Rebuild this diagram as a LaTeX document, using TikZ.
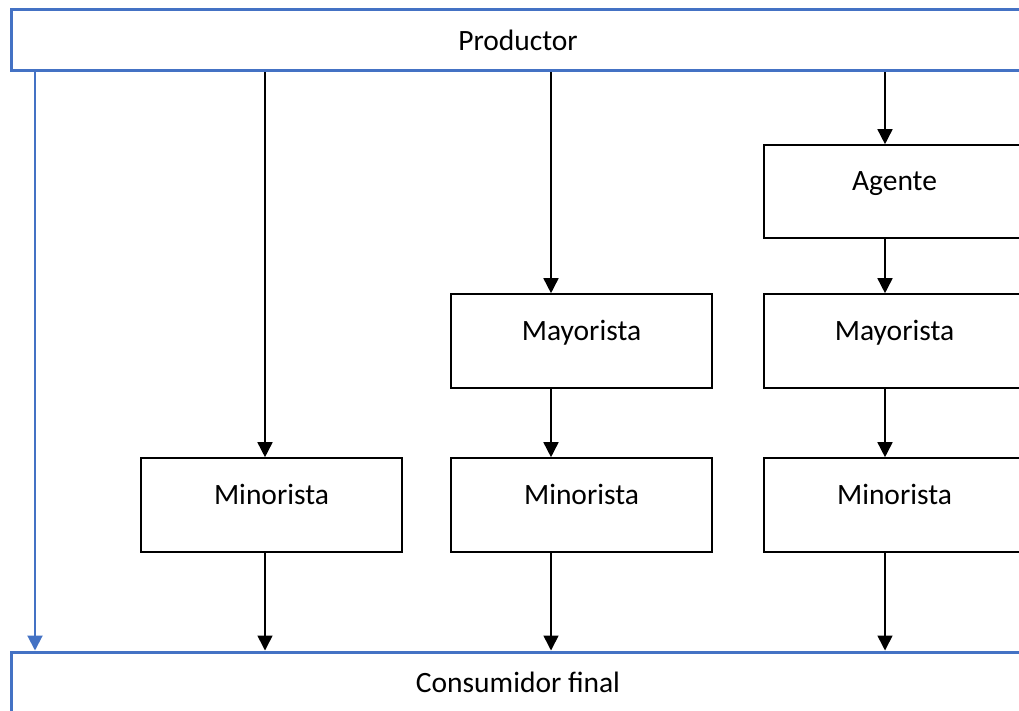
\documentclass[tikz,border=0pt]{standalone}
\usepackage{fontspec}
\setmainfont{Carlito}
\usetikzlibrary{arrows.meta}
\definecolor{wblue}{HTML}{4472C4}
\begin{document}
\begin{tikzpicture}[x=1pt,y=-1pt,
  font=\fontsize{29.5}{35}\selectfont,
  bluebox/.style={draw=wblue,line width=3pt,minimum width=1014pt,minimum height=61pt,inner sep=0pt},
  blackbox/.style={draw=black,line width=1.6pt,minimum width=261pt,minimum height=94pt,inner sep=0pt,text height=20pt,text depth=22pt},
  arr/.style={draw=black,line width=1.6pt,-{Triangle[width=15pt,length=15pt]}},
  barr/.style={draw=wblue,line width=2pt,-{Triangle[width=15pt,length=15pt]}}]
\useasboundingbox (0,0) rectangle (1019,711);
\clip (0,0) rectangle (1019,711);
\fill[white] (0,0) rectangle (1019,711);
\node[bluebox] (prod) at (518,40.5) {Productor};
\node[bluebox] (cons) at (518,682.5) {Consumidor final};
\node[blackbox] (min1) at (271.5,505) {Minorista};
\node[blackbox] (min2) at (581.5,505) {Minorista};
\node[blackbox] (min3) at (894.5,505) {Minorista};
\node[blackbox] (may2) at (581.5,341) {Mayorista};
\node[blackbox] (may3) at (894.5,341) {Mayorista};
\node[blackbox,minimum height=93pt] (age) at (894.5,191.5) {Agente};
\coordinate (cb) at (35,0);
\coordinate (c1) at (265,0);
\coordinate (c2) at (551,0);
\coordinate (c3) at (885,0);
\draw[barr] (cb |- prod.south) -- (cb |- cons.north);
\draw[arr] (c1 |- prod.south) -- (c1 |- min1.north);
\draw[arr] (c2 |- prod.south) -- (c2 |- may2.north);
\draw[arr] (c3 |- prod.south) -- (c3 |- age.north);
\draw[arr] (c3 |- age.south) -- (c3 |- may3.north);
\draw[arr] (c2 |- may2.south) -- (c2 |- min2.north);
\draw[arr] (c3 |- may3.south) -- (c3 |- min3.north);
\draw[arr] (c1 |- min1.south) -- (c1 |- cons.north);
\draw[arr] (c2 |- min2.south) -- (c2 |- cons.north);
\draw[arr] (c3 |- min3.south) -- (c3 |- cons.north);
\end{tikzpicture}
\end{document}
